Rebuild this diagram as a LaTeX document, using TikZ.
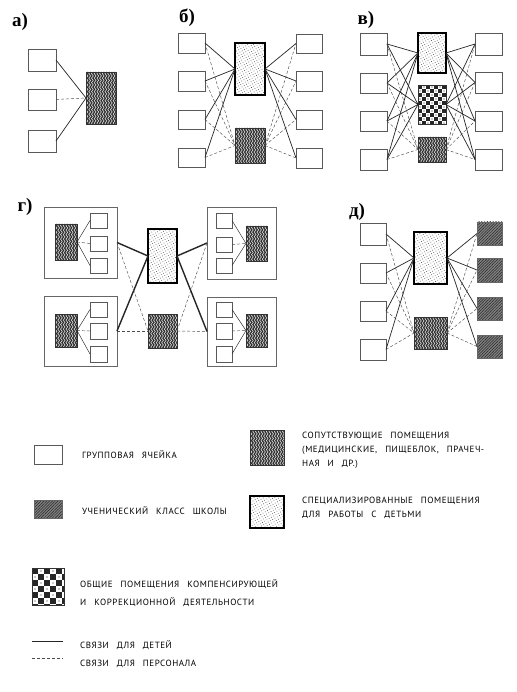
\documentclass[tikz,border=0pt]{standalone}
\usepackage{fontspec}
\setmainfont{PT Sans}
\newfontfamily\labfont{Liberation Serif}
\usetikzlibrary{patterns,patterns.meta,decorations.pathmorphing,calc}

\newcommand\lgfont{\fontsize{9}{11}\selectfont\addfontfeature{LetterSpace=6}\spaceskip=8pt\relax}
\newcommand\R[6]{\node[#1, minimum width={#5-#3}, minimum height={#6-#4}] (#2) at ({(#3+#5)/2},{(#4+#6)/2}) {};}

\newcommand\checkerfill[1]{%
  \fill[white] (path picture bounding box.south west) rectangle (path picture bounding box.north east);
  \foreach \i in {0,...,11}{\foreach \j in {0,...,11}{%
    \pgfmathtruncatemacro\pp{mod(\i+\j,2)}%
    \ifnum\pp=0
      \fill[black!85] ($(path picture bounding box.north west)+(\i*#1,\j*#1)$) rectangle +(#1,#1);
    \else
      \fill[black!85] ($(path picture bounding box.north west)+(\i*#1+#1/2,\j*#1+#1/2)$) circle[radius=0.6pt];
    \fi}}}

\newcommand\wavyfill{%
  \fill[black!82] (path picture bounding box.south west) rectangle (path picture bounding box.north east);
  \foreach \k in {0,...,13}{%
    \draw[white!85!black, line width=0.6pt, decorate, decoration={snake,amplitude=0.9pt,segment length=4.5pt}]
      ($(path picture bounding box.north west)+(\k*2.7+1,-2)$) -- ($(path picture bounding box.south west)+(\k*2.7+1,2)$);}}

\tikzset{
  grp/.style={draw=black!65, line width=0.5pt, fill=white, inner sep=0pt, outer sep=0pt},
  cluster/.style={draw=black!60, line width=0.5pt, inner sep=0pt, outer sep=0pt},
  acc/.style={draw=black!80, line width=0.6pt, inner sep=0pt, outer sep=0pt, path picture={\wavyfill}},
  spec/.style={draw=black, line width=1.4pt, inner sep=0pt, outer sep=0pt, preaction={fill=white},
    pattern={Dots[distance=2.6pt, radius=0.45pt, angle=30]}, pattern color=black!75},
  common/.style={draw=black!80, line width=0.8pt, inner sep=0pt, outer sep=0pt, path picture={\checkerfill{#1}}},
  common/.default=4,
  cls/.style={draw=black!60, line width=0.5pt, inner sep=0pt, outer sep=0pt, preaction={fill=black!50},
    pattern={Lines[angle=45,distance=2pt,line width=0.5pt]}, pattern color=black!85},
  child/.style={draw=black!85, line width=0.7pt},
  thick child/.style={draw=black!85, line width=1.4pt},
  staff/.style={draw=black!70, line width=0.45pt, dash pattern=on 3pt off 2pt},
  lab/.style={font=\labfont\bfseries\fontsize{19}{19}\selectfont, inner sep=0pt},
  lg/.style={anchor=base west, inner sep=0pt, font=\lgfont},
}

\begin{document}
\begin{tikzpicture}[x=1pt,y=-1pt]
\useasboundingbox[fill=white] (0,0) rectangle (516,692);

% ---------------- panel a
\node[lab] (la) at (20,22) {а)};
\R{grp}{a1}{28}{49}{56}{71}
\R{grp}{a2}{28}{89}{56}{110}
\R{grp}{a3}{28}{130}{56}{152}
\R{acc}{aC}{86}{72}{116}{124}
\draw[child] (a1.east) -- (aC.west);
\draw[staff] (a2.east) -- (aC.west);
\draw[child] (a3.east) -- (aC.west);

% ---------------- panel b
\node[lab] (lb) at (187,18) {б)};
\R{grp}{bL1}{178}{33}{205}{53}
\R{grp}{bL2}{178}{71}{205}{91}
\R{grp}{bL3}{178}{110}{205}{129}
\R{grp}{bL4}{178}{148}{205}{167}
\R{spec}{bT}{235}{43}{265}{95}
\R{acc}{bB}{235}{128}{265}{163}
\R{grp}{bR1}{296}{34}{322}{53}
\R{grp}{bR2}{296}{71}{322}{91}
\R{grp}{bR3}{296}{110}{322}{129}
\R{grp}{bR4}{296}{148}{322}{168}
\foreach \i in {1,...,4}{
  \draw[child] (bL\i.east) -- (bT.west);
  \draw[staff] (bL\i.east) -- (bB.west);
  \draw[child] (bT.east) -- (bR\i.west);
  \draw[staff] (bB.east) -- (bR\i.west);
}

% ---------------- panel v
\node[lab] (lv) at (366,20) {в)};
\R{grp}{vL1}{360}{33}{387}{55}
\R{grp}{vL2}{360}{73}{387}{93}
\R{grp}{vL3}{360}{111}{387}{131}
\R{grp}{vL4}{360}{149}{387}{170}
\R{spec}{vT}{418}{33}{446}{73}
\R{common}{vM}{418}{85}{446}{124}
\R{acc}{vB}{418}{137}{446}{162}
\R{grp}{vR1}{475}{33}{502}{55}
\R{grp}{vR2}{475}{72}{502}{93}
\R{grp}{vR3}{475}{111}{502}{131}
\R{grp}{vR4}{475}{149}{502}{170}
\foreach \i in {1,...,4}{
  \draw[child] (vL\i.east) -- (vT.west);
  \draw[child] (vL\i.east) -- (vM.west);
  \draw[staff] (vL\i.east) -- (vB.west);
  \draw[child] (vT.east) -- (vR\i.west);
  \draw[child] (vM.east) -- (vR\i.west);
  \draw[staff] (vB.east) -- (vR\i.west);
}

% ---------------- panel g
\node[lab] (lg) at (25,207) {г)};
\R{cluster}{gTL}{44}{207}{117}{278}
\R{cluster}{gBL}{44}{296}{117}{366}
\R{cluster}{gTR}{207}{207}{276}{279}
\R{cluster}{gBR}{207}{297}{276}{366}
% top-left cluster
\R{acc}{gTLa}{55}{224}{77}{260}
\R{grp}{gTL1}{90}{213}{107}{228}
\R{grp}{gTL2}{90}{236}{107}{251}
\R{grp}{gTL3}{90}{258}{107}{273}
% bottom-left cluster
\R{acc}{gBLa}{55}{314}{77}{347}
\R{grp}{gBL1}{90}{302}{107}{317}
\R{grp}{gBL2}{90}{323}{107}{339}
\R{grp}{gBL3}{90}{346}{107}{362}
% top-right cluster
\R{grp}{gTR1}{216}{213}{232}{228}
\R{grp}{gTR2}{216}{237}{232}{252}
\R{grp}{gTR3}{216}{258}{232}{273}
\R{acc}{gTRa}{246}{226}{267}{261}
% bottom-right cluster
\R{grp}{gBR1}{216}{302}{232}{317}
\R{grp}{gBR2}{216}{323}{232}{339}
\R{grp}{gBR3}{216}{346}{232}{362}
\R{acc}{gBRa}{246}{314}{267}{347}
% centre
\R{spec}{gT}{148}{229}{177}{283}
\R{acc}{gB}{148}{314}{177}{348}
\foreach \c in {TL,BL}{
  \draw[child, line width=0.45pt] (g\c a.east) -- (g\c 1.west);
  \draw[staff] (g\c a.east) -- (g\c 2.west);
  \draw[child, line width=0.45pt] (g\c a.east) -- (g\c 3.west);
}
\foreach \c in {TR,BR}{
  \draw[child, line width=0.45pt] (g\c 1.east) -- (g\c a.west);
  \draw[staff] (g\c 2.east) -- (g\c a.west);
  \draw[child, line width=0.45pt] (g\c 3.east) -- (g\c a.west);
}
\draw[thick child] (gTL.east) -- (gT.west);
\draw[thick child] (gBL.east) -- (gT.west);
\draw[thick child] (gT.east) -- (gTR.west);
\draw[thick child] (gT.east) -- (gBR.west);
\draw[staff] (gTL.east) -- (gB.west);
\draw[staff] (gBL.east) -- (gB.west);
\draw[staff] (gB.east) -- (gTR.west);
\draw[staff] (gB.east) -- (gBR.west);

% ---------------- panel d
\node[lab] (ld) at (357,212) {д)};
\R{grp}{dL1}{360}{223}{386}{245}
\R{grp}{dL2}{360}{263}{386}{283}
\R{grp}{dL3}{360}{301}{386}{321}
\R{grp}{dL4}{360}{339}{386}{360}
\R{spec}{dT}{414}{232}{447}{284}
\R{acc}{dB}{414}{317}{447}{349}
\R{cls}{dR1}{477}{222}{502}{245}
\R{cls}{dR2}{477}{258}{502}{282}
\R{cls}{dR3}{477}{297}{502}{320}
\R{cls}{dR4}{477}{335}{502}{358}
\foreach \i in {1,...,4}{
  \draw[child] (dL\i.east) -- (dT.west);
  \draw[staff] (dL\i.east) -- (dB.west);
  \draw[child] (dT.east) -- (dR\i.west);
  \draw[staff] (dB.east) -- (dR\i.west);
}

% ---------------- legend
\R{grp}{kG}{34}{445}{62}{464}
\node[lg] (tG) at (82,458) {ГРУППОВАЯ ЯЧЕЙКА};
\R{cls}{kC}{34}{500}{62}{518}
\node[lg] (tC) at (82,514) {УЧЕНИЧЕСКИЙ КЛАСС ШКОЛЫ};
\R{acc}{kA}{250}{430}{284}{465}
\node[lg] (tA1) at (302,438) {СОПУТСТВУЮЩИЕ ПОМЕЩЕНИЯ};
\node[lg] (tA2) at (302,452) {(МЕДИЦИНСКИЕ, ПИЩЕБЛОК, ПРАЧЕЧ-};
\node[lg] (tA3) at (302,466) {НАЯ И ДР.)};
\R{spec}{kS}{250}{496}{284}{528}
\node[lg] (tS1) at (302,503) {СПЕЦИАЛИЗИРОВАННЫЕ ПОМЕЩЕНИЯ};
\node[lg] (tS2) at (302,517) {ДЛЯ РАБОТЫ С ДЕТЬМИ};
\R{common=6}{kK}{32}{568}{64}{605}
\node[lg] (tK1) at (80,587) {ОБЩИЕ ПОМЕЩЕНИЯ КОМПЕНСИРУЮЩЕЙ};
\node[lg] (tK2) at (80,605) {И КОРРЕКЦИОННОЙ ДЕЯТЕЛЬНОСТИ};
\coordinate (s1) at (32,641);
\coordinate (s2) at (63,641);
\coordinate (d1) at (32,658);
\coordinate (d2) at (63,658);
\draw[child] (s1) -- (s2);
\draw[staff] (d1) -- (d2);
\node[lg] (tL1) at (80,648) {СВЯЗИ ДЛЯ ДЕТЕЙ};
\node[lg] (tL2) at (80,666) {СВЯЗИ ДЛЯ ПЕРСОНАЛА};
\end{tikzpicture}
\end{document}
